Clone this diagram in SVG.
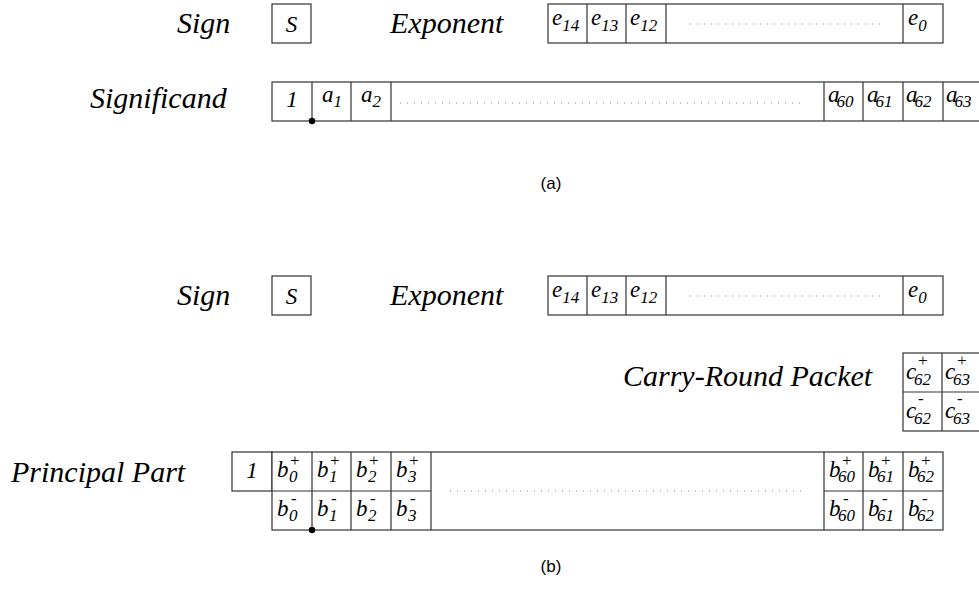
<svg xmlns="http://www.w3.org/2000/svg" width="979" height="594" viewBox="0 0 979 594">
  <style>
    .lbl { font-family: "Liberation Serif", "Times New Roman", serif; font-style: italic; font-size: 30px; fill: #000; }
    .cell { font-family: "Liberation Serif", "Times New Roman", serif; font-style: italic; font-size: 23px; fill: #000; }
    .sub { font-size: 17px; }
    .box { fill: #fff; stroke: #333; stroke-width: 1.2; }
    .sep { stroke: #333; stroke-width: 1.2; }
    .dots { stroke: #888; stroke-width: 1.2; stroke-dasharray: 1 6; }
    .cap { font-family: "Liberation Sans", Arial, sans-serif; font-size: 17px; fill: #000; text-anchor: middle; }
    .pt { fill: #000; }
  </style>

  <!-- ===== (a) IEEE-style layout ===== -->
  <g id="sign-a">
    <text class="lbl" x="177" y="33">Sign</text>
    <rect class="box" x="272" y="4" width="39" height="39"/>
    <text class="cell" x="291.5" y="32" text-anchor="middle" font-size="25">S</text>
  </g>

  <g id="exponent-a">
    <text class="lbl" x="390" y="33">Exponent</text>
    <rect class="box" x="548" y="4" width="395" height="39"/>
    <line class="sep" x1="587" y1="4" x2="587" y2="43"/>
    <line class="sep" x1="626" y1="4" x2="626" y2="43"/>
    <line class="sep" x1="666" y1="4" x2="666" y2="43"/>
    <line class="sep" x1="903" y1="4" x2="903" y2="43"/>
    <line class="dots" x1="690" y1="24" x2="882" y2="24"/>
    <text class="cell" x="552" y="25">e<tspan class="sub" dy="6">14</tspan></text>
    <text class="cell" x="591" y="25">e<tspan class="sub" dy="6">13</tspan></text>
    <text class="cell" x="630" y="25">e<tspan class="sub" dy="6">12</tspan></text>
    <text class="cell" x="908" y="25">e<tspan class="sub" dy="6">0</tspan></text>
  </g>

  <g id="significand-a">
    <text class="lbl" x="90" y="108">Significand</text>
    <rect class="box" x="272" y="82" width="710" height="39"/>
    <line class="sep" x1="312" y1="82" x2="312" y2="121"/>
    <line class="sep" x1="351" y1="82" x2="351" y2="121"/>
    <line class="sep" x1="391" y1="82" x2="391" y2="121"/>
    <line class="sep" x1="824" y1="82" x2="824" y2="121"/>
    <line class="sep" x1="863" y1="82" x2="863" y2="121"/>
    <line class="sep" x1="903" y1="82" x2="903" y2="121"/>
    <line class="sep" x1="943" y1="82" x2="943" y2="121"/>
    <line class="dots" x1="400" y1="103" x2="802" y2="103"/>
    <text class="cell" x="292" y="107" text-anchor="middle">1</text>
    <text class="cell" x="322" y="102">a<tspan class="sub" dy="5">1</tspan></text>
    <text class="cell" x="361" y="102">a<tspan class="sub" dy="5">2</tspan></text>
    <text class="cell" x="828" y="102">a<tspan class="sub" dx="-3" dy="5">60</tspan></text>
    <text class="cell" x="867" y="102">a<tspan class="sub" dx="-3" dy="5">61</tspan></text>
    <text class="cell" x="906" y="102">a<tspan class="sub" dx="-3" dy="5">62</tspan></text>
    <text class="cell" x="946" y="102">a<tspan class="sub" dx="-3" dy="5">63</tspan></text>
    <circle class="pt" cx="312" cy="121" r="3.2"/>
  </g>

  <text class="cap" x="551" y="189">(a)</text>

  <!-- ===== (b) redundant layout ===== -->
  <g id="sign-b">
    <text class="lbl" x="177" y="305">Sign</text>
    <rect class="box" x="272" y="276" width="39" height="39"/>
    <text class="cell" x="291.5" y="304" text-anchor="middle" font-size="25">S</text>
  </g>

  <g id="exponent-b">
    <text class="lbl" x="390" y="305">Exponent</text>
    <rect class="box" x="548" y="276" width="395" height="39"/>
    <line class="sep" x1="587" y1="276" x2="587" y2="315"/>
    <line class="sep" x1="626" y1="276" x2="626" y2="315"/>
    <line class="sep" x1="666" y1="276" x2="666" y2="315"/>
    <line class="sep" x1="903" y1="276" x2="903" y2="315"/>
    <line class="dots" x1="690" y1="296" x2="882" y2="296"/>
    <text class="cell" x="552" y="297">e<tspan class="sub" dy="6">14</tspan></text>
    <text class="cell" x="591" y="297">e<tspan class="sub" dy="6">13</tspan></text>
    <text class="cell" x="630" y="297">e<tspan class="sub" dy="6">12</tspan></text>
    <text class="cell" x="908" y="297">e<tspan class="sub" dy="6">0</tspan></text>
  </g>

  <!-- digit cells: base letter, superscript sign, subscript index in one text each -->
  <g id="carry-round-packet">
    <text class="lbl" x="623" y="386" font-size="29">Carry-Round Packet</text>
    <rect class="box" x="903" y="353" width="79" height="78"/>
    <line class="sep" x1="942" y1="353" x2="942" y2="431"/>
    <line class="sep" x1="903" y1="392" x2="982" y2="392"/>
    <text class="cell" x="906" y="379">c<tspan class="sub" x="917" y="366">+</tspan><tspan class="sub" x="914" y="385">62</tspan></text>
    <text class="cell" x="945" y="379">c<tspan class="sub" x="956" y="366">+</tspan><tspan class="sub" x="953" y="385">63</tspan></text>
    <text class="cell" x="906" y="418">c<tspan class="sub" x="918" y="404">-</tspan><tspan class="sub" x="914" y="424">62</tspan></text>
    <text class="cell" x="945" y="418">c<tspan class="sub" x="957" y="404">-</tspan><tspan class="sub" x="953" y="424">63</tspan></text>
  </g>

  <g id="principal-part">
    <text class="lbl" x="11" y="482" font-size="31">Principal Part</text>
    <rect class="box" x="232" y="452" width="40" height="39"/>
    <text class="cell" x="252" y="478" text-anchor="middle">1</text>
    <rect class="box" x="272" y="452" width="671" height="78"/>
    <line class="sep" x1="312" y1="452" x2="312" y2="530"/>
    <line class="sep" x1="351" y1="452" x2="351" y2="530"/>
    <line class="sep" x1="391" y1="452" x2="391" y2="530"/>
    <line class="sep" x1="431" y1="452" x2="431" y2="530"/>
    <line class="sep" x1="824" y1="452" x2="824" y2="530"/>
    <line class="sep" x1="863" y1="452" x2="863" y2="530"/>
    <line class="sep" x1="903" y1="452" x2="903" y2="530"/>
    <line class="sep" x1="272" y1="491" x2="431" y2="491"/>
    <line class="sep" x1="824" y1="491" x2="943" y2="491"/>
    <line class="dots" x1="450" y1="491" x2="802" y2="491"/>

    <!-- upper row: positive digits -->
    <text class="cell" x="277" y="477">b<tspan class="sub" x="289" y="466">+</tspan><tspan class="sub" x="289" y="482">0</tspan></text>
    <text class="cell" x="317" y="477">b<tspan class="sub" x="329" y="466">+</tspan><tspan class="sub" x="329" y="482">1</tspan></text>
    <text class="cell" x="356" y="477">b<tspan class="sub" x="368" y="466">+</tspan><tspan class="sub" x="368" y="482">2</tspan></text>
    <text class="cell" x="396" y="477">b<tspan class="sub" x="408" y="466">+</tspan><tspan class="sub" x="408" y="482">3</tspan></text>
    <text class="cell" x="829" y="477">b<tspan class="sub" x="841" y="466">+</tspan><tspan class="sub" x="838" y="482">60</tspan></text>
    <text class="cell" x="868" y="477">b<tspan class="sub" x="880" y="466">+</tspan><tspan class="sub" x="877" y="482">61</tspan></text>
    <text class="cell" x="908" y="477">b<tspan class="sub" x="920" y="466">+</tspan><tspan class="sub" x="917" y="482">62</tspan></text>

    <!-- lower row: negative digits -->
    <text class="cell" x="277" y="516">b<tspan class="sub" x="291" y="504">-</tspan><tspan class="sub" x="289" y="521">0</tspan></text>
    <text class="cell" x="317" y="516">b<tspan class="sub" x="331" y="504">-</tspan><tspan class="sub" x="329" y="521">1</tspan></text>
    <text class="cell" x="356" y="516">b<tspan class="sub" x="370" y="504">-</tspan><tspan class="sub" x="368" y="521">2</tspan></text>
    <text class="cell" x="396" y="516">b<tspan class="sub" x="410" y="504">-</tspan><tspan class="sub" x="408" y="521">3</tspan></text>
    <text class="cell" x="829" y="516">b<tspan class="sub" x="843" y="504">-</tspan><tspan class="sub" x="838" y="521">60</tspan></text>
    <text class="cell" x="868" y="516">b<tspan class="sub" x="882" y="504">-</tspan><tspan class="sub" x="877" y="521">61</tspan></text>
    <text class="cell" x="908" y="516">b<tspan class="sub" x="922" y="504">-</tspan><tspan class="sub" x="917" y="521">62</tspan></text>

    <circle class="pt" cx="312" cy="530" r="3.2"/>
  </g>

  <text class="cap" x="551" y="572">(b)</text>
</svg>
